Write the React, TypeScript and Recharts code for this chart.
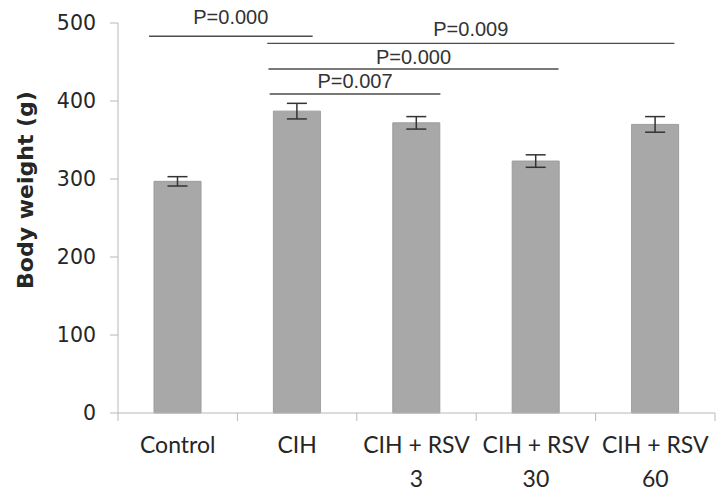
import {
  Bar,
  BarChart,
  ErrorBar,
  ReferenceLine,
  XAxis,
  YAxis,
} from "recharts";

const groups = ["Control", "CIH", "CIH + RSV\n3", "CIH + RSV\n30", "CIH + RSV\n60"];
const weights = [297, 387, 372, 323, 370];
const errors = [6, 10, 8, 8, 10];
const yTicks = [0, 100, 200, 300, 400, 500];

// significance brackets: label, start/end on a 0..5 group scale, height in grams
const sigLabels = ["P=0.000", "P=0.009", "P=0.000", "P=0.007"];
const sigFrom = [0.26, 1.25, 1.26, 1.27];
const sigTo = [1.63, 4.66, 3.69, 2.7];
const sigY = [483, 474, 441, 409];
const sigGap = [12, 7, 5, 6];

const data = groups.map((g, i) => ({
  group: g,
  slot: i + 0.5,
  weight: weights[i],
  err: errors[i],
}));

const axisColor = "#b8b8b8";
const textColor = "#262626";

function GroupTick(props: any) {
  const { x, y, payload, index, visibleTicksCount } = props;
  const half = payload?.offset ?? 0;
  const lines = String(payload.value).split("\n");
  const last = index === (visibleTicksCount ?? groups.length) - 1;
  return (
    <g>
      <line x1={x - half} x2={x - half} y1={y - 8} y2={y} stroke={axisColor} />
      {last && <line x1={x + half} x2={x + half} y1={y - 8} y2={y} stroke={axisColor} />}
      {lines.map((l, i) => (
        <text
          key={i}
          x={x}
          y={y + 32 + i * 34}
          textAnchor="middle"
          fontFamily="Lato, 'Open Sans', sans-serif"
          fontSize={23}
          fill={textColor}
        >
          {l}
        </text>
      ))}
    </g>
  );
}

export default function App() {
  return (
    <div style={{ position: "absolute", left: 0, top: 0, background: "#fff" }}>
      <BarChart
        width={724}
        height={496}
        data={data}
        margin={{ top: 23, right: 9, bottom: 13, left: 0 }}
      >
        <XAxis
          dataKey="group"
          stroke={axisColor}
          tickLine={false}
          tick={<GroupTick />}
          interval={0}
          height={70}
        />
        <XAxis
          xAxisId="sig"
          dataKey="slot"
          type="number"
          domain={[0, 5]}
          allowDataOverflow
          hide
        />
        <YAxis
          domain={[0, 500]}
          ticks={yTicks}
          width={118}
          stroke={axisColor}
          tickSize={8}
          tickMargin={14}
          tick={{ fill: textColor, fontSize: 20.5, fontFamily: "DejaVu Sans" }}
          label={{
            value: "Body weight (g)",
            angle: -90,
            position: "center",
            dx: -34,
            dy: -28,
            fill: textColor,
            fontSize: 22,
            fontWeight: "bold",
            fontFamily: "DejaVu Sans",
          }}
        />
        <Bar
          dataKey="weight"
          fill="#a8a8a8"
          stroke="#9c9c9c"
          barSize={47}
          isAnimationActive={false}
        >
          <ErrorBar dataKey="err" width={10} stroke="#333" strokeWidth={1.5} />
        </Bar>
        {sigLabels.map((label, i) => (
          <ReferenceLine
            key={i}
            xAxisId="sig"
            ifOverflow="visible"
            segment={[
              { x: sigFrom[i], y: sigY[i] },
              { x: sigTo[i], y: sigY[i] },
            ]}
            stroke="#4d4d4d"
            strokeWidth={1.3}
            label={{
              value: label,
              position: "top",
              offset: sigGap[i],
              fill: "#333",
              fontSize: 20,
              fontFamily: "Liberation Sans",
            }}
          />
        ))}
      </BarChart>
    </div>
  );
}
